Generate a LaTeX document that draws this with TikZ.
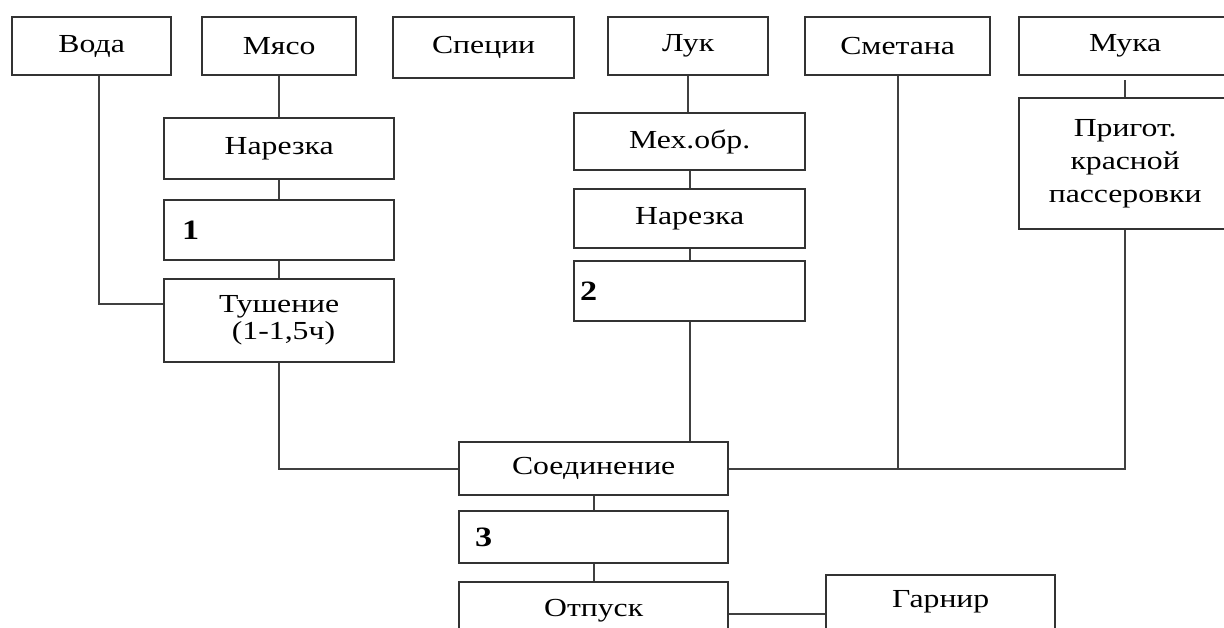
\documentclass[tikz,border=0pt]{standalone}
\usepackage{fontspec}
\setmainfont[FakeStretch=1.22]{Liberation Serif}
\begin{document}
\begin{tikzpicture}[x=1pt,y=-1pt,
  box/.style={draw=black!80, line width=2.3pt, fill=white, inner sep=0pt,
    anchor=north west, font=\fontsize{26}{30}\selectfont, align=center},
  conn/.style={draw=black!75, line width=2pt},
  num/.style={font=\fontsize{28}{30}\selectfont\bfseries, inner sep=0pt, anchor=west}]
\useasboundingbox (0,0) rectangle (1224,628);
\clip (0,0) rectangle (1224,628);
\fill[white] (0,0) rectangle (1224,628);
% top row
\node[box, minimum width=159pt, minimum height=58pt] (voda)  at (11,16)   {Вода};
\node[box, minimum width=154pt, minimum height=58pt] (myaso) at (201,16)  {Мясо};
\node[box, minimum width=181pt, minimum height=61pt] (spec)  at (392,16)  {Специи};
\node[box, minimum width=160pt, minimum height=58pt] (luk)   at (607,16)  {Лук};
\node[box, minimum width=185pt, minimum height=58pt] (smet)  at (804,16)  {Сметана};
\node[box, minimum width=212pt, minimum height=58pt] (muka)  at (1018,16) {Мука};
% meat branch
\node[box, minimum width=230pt, minimum height=61pt] (nar1) at (163,117) {Нарезка};
\node[box, minimum width=230pt, minimum height=60pt] (b1)   at (163,199) {};
\node[box, minimum width=230pt, minimum height=83pt] (tush) at (163,278) {Тушение\\[-3pt]\,\,(1-1,5ч)};
% onion branch
\node[box, minimum width=231pt, minimum height=57pt] (meh)  at (573,112) {Мех.обр.};
\node[box, minimum width=231pt, minimum height=59pt] (nar2) at (573,188) {Нарезка};
\node[box, minimum width=231pt, minimum height=60pt] (b2)   at (573,260) {};
% flour branch
\node[box, minimum width=212pt, minimum height=131pt] (prig) at (1018,97) {Пригот.\\[3pt]красной\\[3pt]пассеровки};
% bottom
\node[box, minimum width=269pt, minimum height=53pt] (soed) at (458,441) {Соединение};
\node[box, minimum width=269pt, minimum height=52pt] (b3)   at (458,510) {};
\node[box, minimum width=269pt, inner ysep=8pt, text height=26pt, text depth=40pt] (otp)  at (458,581) {Отпуск};
\node[box, minimum width=229pt, inner ysep=8pt, text height=24pt, text depth=40pt] (garn) at (825,574) {Гарнир};
% numbers
\node[num] (n1) at ([xshift=19pt]b1.west) {1};
\node[num] (n2) at ([xshift=7pt]b2.west) {2};
\node[num] (n3) at ([xshift=17pt]b3.west) {3};
% connectors
\draw[conn] ([xshift=7pt]voda.south) |- ([yshift=17pt]tush.west);
\draw[conn] (myaso.south) -- (myaso.south |- nar1.north);
\draw[conn] (nar1.south) -- (b1.north);
\draw[conn] (b1.south) -- (tush.north);
\draw[conn] (tush.south) |- (soed.west);
\draw[conn] (luk.south) -- (luk.south |- meh.north);
\draw[conn] (meh.south) -- (nar2.north);
\draw[conn] (nar2.south) -- (b2.north);
\draw[conn] (b2.south) -- (b2.south |- soed.north);
\draw[conn] (smet.south) -- (smet.south |- soed.east);
\draw[conn] (prig.south) |- (soed.east);
\draw[conn] ([yshift=-4pt]muka.south) -- (prig.north);
\draw[conn] (soed.south) -- (soed.south |- b3.north);
\draw[conn] (b3.south) -- (b3.south |- otp.north);
\draw[conn] (otp.mid east) -- (otp.mid east -| garn.west);
\end{tikzpicture}
\end{document}
